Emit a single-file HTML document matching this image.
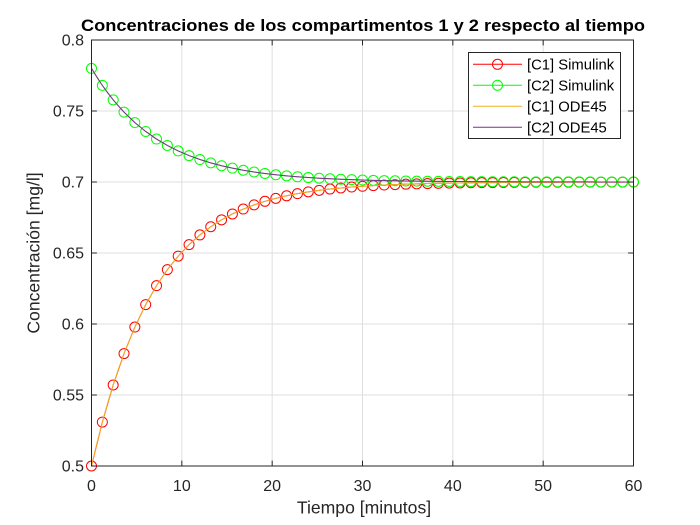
<!DOCTYPE html>
<html>
<head>
<meta charset="utf-8">
<style>
html,body{margin:0;padding:0;background:#fff;}
svg{display:block;}
text{font-family:"Liberation Sans",Arial,sans-serif;}
</style>
</head>
<body>
<svg width="700" height="525" viewBox="0 0 700 525" xmlns="http://www.w3.org/2000/svg">
<defs>
<marker id="mr" markerUnits="userSpaceOnUse" markerWidth="14" markerHeight="14" refX="7" refY="7" overflow="visible">
<circle cx="7" cy="7" r="5" fill="none" stroke="#ff0000" stroke-width="1"/>
</marker>
<marker id="mg" markerUnits="userSpaceOnUse" markerWidth="14" markerHeight="14" refX="7" refY="7" overflow="visible">
<circle cx="7" cy="7" r="5" fill="none" stroke="#00ff00" stroke-width="1"/>
</marker>
</defs>
<rect x="0" y="0" width="700" height="525" fill="#fff"/>
<!-- plot background -->
<rect x="91.5" y="40" width="542" height="426" fill="#fff"/>
<!-- grid -->
<g stroke="#dfdfdf" stroke-width="1">
<line x1="181.83" y1="40" x2="181.83" y2="466"/>
<line x1="272.17" y1="40" x2="272.17" y2="466"/>
<line x1="362.5" y1="40" x2="362.5" y2="466"/>
<line x1="452.83" y1="40" x2="452.83" y2="466"/>
<line x1="543.17" y1="40" x2="543.17" y2="466"/>
<line x1="91.5" y1="395" x2="633.5" y2="395"/>
<line x1="91.5" y1="324" x2="633.5" y2="324"/>
<line x1="91.5" y1="253" x2="633.5" y2="253"/>
<line x1="91.5" y1="182" x2="633.5" y2="182"/>
<line x1="91.5" y1="111" x2="633.5" y2="111"/>
</g>
<!-- C1 Simulink -->
<polyline fill="none" stroke="#ff0000" stroke-width="1" marker-start="url(#mr)" marker-mid="url(#mr)" marker-end="url(#mr)" points="91.5,466 102.34,422.08 113.18,384.95 124.02,353.57 134.86,327.04 145.7,304.61 156.54,285.65 167.38,269.62 178.22,256.07 189.06,244.61 199.9,234.93 210.74,226.74 221.58,219.82 232.42,213.98 243.26,209.03 254.1,204.85 264.94,201.31 275.78,198.33 286.62,195.8 297.46,193.67 308.3,191.86 319.14,190.34 329.98,189.05 340.82,187.96 351.66,187.04 362.5,186.26 373.34,185.6 384.18,185.04 395.02,184.57 405.86,184.18 416.7,183.84 427.54,183.55 438.38,183.31 449.22,183.11 460.06,182.94 470.9,182.79 481.74,182.67 492.58,182.57 503.42,182.48 514.26,182.41 525.1,182.34 535.94,182.29 546.78,182.25 557.62,182.21 568.46,182.18 579.3,182.15 590.14,182.13 600.98,182.11 611.82,182.09 622.66,182.08 633.5,182.06"/>
<!-- C2 Simulink -->
<polyline fill="none" stroke="#00ff00" stroke-width="1" marker-start="url(#mg)" marker-mid="url(#mg)" marker-end="url(#mg)" points="91.5,68.4 102.34,85.39 113.18,99.84 124.02,112.13 134.86,122.58 145.7,131.46 156.54,139.02 167.38,145.45 178.22,150.92 189.06,155.57 199.9,159.52 210.74,162.88 221.58,165.74 232.42,168.17 243.26,170.24 254.1,172 264.94,173.49 275.78,174.77 286.62,175.85 297.46,176.77 308.3,177.55 319.14,178.22 329.98,178.78 340.82,179.26 351.66,179.67 362.5,180.02 373.34,180.32 384.18,180.57 395.02,180.78 405.86,180.97 416.7,181.12 427.54,181.25 438.38,181.36 449.22,181.46 460.06,181.54 470.9,181.61 481.74,181.67 492.58,181.72 503.42,181.76 514.26,181.79 525.1,181.82 535.94,181.85 546.78,181.87 557.62,181.89 568.46,181.9 579.3,181.92 590.14,181.93 600.98,181.94 611.82,181.95 622.66,181.96 633.5,181.97"/>
<!-- C1 ODE45 -->
<polyline fill="none" stroke="#edb120" stroke-width="1" points="91.5,466 96.92,443.2 102.34,422.08 107.76,402.8 113.18,384.95 118.6,368.7 124.02,353.57 134.86,327.04 145.7,304.61 156.54,285.65 167.38,269.62 178.22,256.07 189.06,244.61 199.9,234.93 210.74,226.74 221.58,219.82 232.42,213.98 243.26,209.03 254.1,204.85 264.94,201.31 275.78,198.33 286.62,195.8 297.46,193.67 308.3,191.86 319.14,190.34 329.98,189.05 340.82,187.96 351.66,187.04 362.5,186.26 373.34,185.6 384.18,185.04 395.02,184.57 405.86,184.18 416.7,183.84 427.54,183.55 438.38,183.31 449.22,183.11 460.06,182.94 470.9,182.79 481.74,182.67 492.58,182.57 503.42,182.48 514.26,182.41 525.1,182.34 535.94,182.29 546.78,182.25 557.62,182.21 568.46,182.18 579.3,182.15 590.14,182.13 600.98,182.11 611.82,182.09 622.66,182.08 633.5,182.06"/>
<!-- C2 ODE45 -->
<polyline fill="none" stroke="#7e2f8e" stroke-width="1" points="91.5,68.4 96.92,77.2 102.34,85.39 107.76,92.9 113.18,99.84 118.6,106.2 124.02,112.13 134.86,122.58 145.7,131.46 156.54,139.02 167.38,145.45 178.22,150.92 189.06,155.57 199.9,159.52 210.74,162.88 221.58,165.74 232.42,168.17 243.26,170.24 254.1,172 264.94,173.49 275.78,174.77 286.62,175.85 297.46,176.77 308.3,177.55 319.14,178.22 329.98,178.78 340.82,179.26 351.66,179.67 362.5,180.02 373.34,180.32 384.18,180.57 395.02,180.78 405.86,180.97 416.7,181.12 427.54,181.25 438.38,181.36 449.22,181.46 460.06,181.54 470.9,181.61 481.74,181.67 492.58,181.72 503.42,181.76 514.26,181.79 525.1,181.82 535.94,181.85 546.78,181.87 557.62,181.89 568.46,181.9 579.3,181.92 590.14,181.93 600.98,181.94 611.82,181.95 622.66,181.96 633.5,181.97"/>
<!-- axes box -->
<rect x="91.5" y="40" width="542" height="426" fill="none" stroke="#262626" stroke-width="1"/>
<!-- ticks -->
<g stroke="#262626" stroke-width="1">
<line x1="181.83" y1="466" x2="181.83" y2="460.6"/><line x1="181.83" y1="40" x2="181.83" y2="45.4"/>
<line x1="272.17" y1="466" x2="272.17" y2="460.6"/><line x1="272.17" y1="40" x2="272.17" y2="45.4"/>
<line x1="362.5" y1="466" x2="362.5" y2="460.6"/><line x1="362.5" y1="40" x2="362.5" y2="45.4"/>
<line x1="452.83" y1="466" x2="452.83" y2="460.6"/><line x1="452.83" y1="40" x2="452.83" y2="45.4"/>
<line x1="543.17" y1="466" x2="543.17" y2="460.6"/><line x1="543.17" y1="40" x2="543.17" y2="45.4"/>
<line x1="91.5" y1="395" x2="96.9" y2="395"/><line x1="633.5" y1="395" x2="628.1" y2="395"/>
<line x1="91.5" y1="324" x2="96.9" y2="324"/><line x1="633.5" y1="324" x2="628.1" y2="324"/>
<line x1="91.5" y1="253" x2="96.9" y2="253"/><line x1="633.5" y1="253" x2="628.1" y2="253"/>
<line x1="91.5" y1="182" x2="96.9" y2="182"/><line x1="633.5" y1="182" x2="628.1" y2="182"/>
<line x1="91.5" y1="111" x2="96.9" y2="111"/><line x1="633.5" y1="111" x2="628.1" y2="111"/>
</g>
<!-- y tick labels -->
<g fill="#262626" font-size="16" text-anchor="end">
<text x="84" y="471.7">0.5</text>
<text x="84" y="400.7">0.55</text>
<text x="84" y="329.7">0.6</text>
<text x="84" y="258.7">0.65</text>
<text x="84" y="187.7">0.7</text>
<text x="84" y="116.7">0.75</text>
<text x="84" y="45.7">0.8</text>
</g>
<!-- x tick labels -->
<g fill="#262626" font-size="16" text-anchor="middle">
<text x="91.5" y="491">0</text>
<text x="181.83" y="491">10</text>
<text x="272.17" y="491">20</text>
<text x="362.5" y="491">30</text>
<text x="452.83" y="491">40</text>
<text x="543.17" y="491">50</text>
<text x="633.5" y="491">60</text>
</g>
<!-- axis labels -->
<text x="364" y="513.3" font-size="17.6" fill="#262626" text-anchor="middle">Tiempo [minutos]</text>
<text transform="translate(39.5,253) rotate(-90)" x="0" y="0" font-size="17.6" fill="#262626" text-anchor="middle">Concentración [mg/l]</text>
<!-- title -->
<text x="363" y="31" font-size="17" font-weight="bold" fill="#000" text-anchor="middle" textLength="564" lengthAdjust="spacingAndGlyphs">Concentraciones de los compartimentos 1 y 2 respecto al tiempo</text>
<!-- legend -->
<rect x="468.5" y="52.5" width="152" height="86" fill="#fff" stroke="#262626" stroke-width="1"/>
<line x1="473" y1="64.3" x2="522" y2="64.3" stroke="#ff0000" stroke-width="1"/>
<circle cx="497.5" cy="64.3" r="5" fill="none" stroke="#ff0000" stroke-width="1"/>
<line x1="473" y1="85.3" x2="522" y2="85.3" stroke="#00ff00" stroke-width="1"/>
<circle cx="497.5" cy="85.3" r="5" fill="none" stroke="#00ff00" stroke-width="1"/>
<line x1="473" y1="106.3" x2="522" y2="106.3" stroke="#edb120" stroke-width="1"/>
<line x1="473" y1="127.3" x2="522" y2="127.3" stroke="#7e2f8e" stroke-width="1"/>
<g fill="#000" font-size="14.8">
<text x="527" y="69.6">[C1] Simulink</text>
<text x="527" y="90.6">[C2] Simulink</text>
<text x="527" y="111.6">[C1] ODE45</text>
<text x="527" y="132.6">[C2] ODE45</text>
</g>
</svg>
</body>
</html>
